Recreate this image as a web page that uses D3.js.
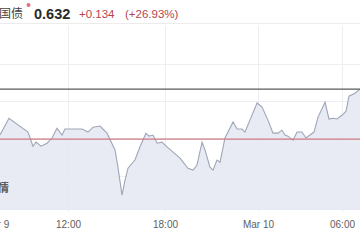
<!DOCTYPE html>
<html>
<head>
<meta charset="utf-8">
<script src="https://cdn.jsdelivr.net/npm/d3@7"></script>
<style>
  html, body { margin: 0; padding: 0; background: #fff; }
  svg { display: block; font-family: "Liberation Sans", Arial, sans-serif; }
</style>
</head>
<body>
<script>
// hours since Mar 9 00:00, yield
var hours = [7.75, 8.31, 9.50, 9.81, 10.0, 10.31, 10.69, 11.0, 11.31, 11.63, 11.81, 12.12, 12.87, 13.24, 13.55, 13.98,
  14.41, 14.91, 15.09, 15.34, 15.53, 15.71, 16.14, 16.45, 16.82, 17.01, 17.26, 17.51, 17.81, 18.13, 18.52, 18.97,
  19.48, 19.81, 20.06, 20.39, 20.58, 20.90, 21.10, 21.35, 21.55, 21.87, 22.39, 22.65, 22.97, 23.16, 23.48, 23.94,
  24.29, 24.71, 25.07, 25.43, 25.71, 25.93, 26.14, 26.50, 26.79, 27.14, 27.43, 27.71, 28.0, 28.29, 28.79, 29.07,
  29.36, 29.64, 30.0, 30.29, 30.5, 30.93, 31.29]
var yields = [0.509, 0.554, 0.517, 0.479, 0.490, 0.479, 0.487, 0.501, 0.527, 0.509, 0.525, 0.525, 0.525, 0.517, 0.530, 0.533,
  0.514, 0.469, 0.423, 0.348, 0.388, 0.420, 0.442, 0.477, 0.514, 0.506, 0.509, 0.487, 0.490, 0.477, 0.463, 0.447,
  0.420, 0.415, 0.428, 0.490, 0.469, 0.423, 0.415, 0.442, 0.436, 0.501, 0.544, 0.525, 0.525, 0.517, 0.549, 0.595,
  0.584, 0.549, 0.514, 0.514, 0.522, 0.509, 0.506, 0.495, 0.517, 0.517, 0.501, 0.509, 0.517, 0.557, 0.597, 0.552,
  0.554, 0.552, 0.562, 0.573, 0.613, 0.621, 0.632]
var prevClose = 0.498
var lastPrice = 0.632
var quoteTexts = ["0.632", "+0.134", "(+26.93%)"]
var tickHours = [7.5, 12, 18, 24, 30]
var tickLabels = ["Mar 9", "12:00", "18:00", "Mar 10", "06:00"]
var gridValues = [0.4, 0.5, 0.6, 0.7]

var width = 360, height = 240

var svg = d3.select("body").append("svg")
  .attr("width", width)
  .attr("height", height)

// session gaps make the axis uneven, so the scale is piecewise
var x = d3.scaleLinear()
  .domain([7.5, 12, 18, 24, 30, 31.29])
  .range([-4, 68, 165, 258, 342, 360])
var y = d3.scaleLinear().domain([0.308, 0.804]).range([210, 25])

var data = hours.map(function(h, i) { return { h: h, v: yields[i] } })

// header
svg.append("line")
  .attr("x1", 0).attr("x2", width)
  .attr("y1", 23.5).attr("y2", 23.5)
  .attr("stroke", "#ececec")

svg.append("text")
  .attr("x", -1).attr("y", 18)
  .attr("font-family", "Noto Sans CJK SC")
  .attr("font-size", 12)
  .attr("fill", "#444")
  .text("国债")

svg.append("circle")
  .attr("cx", 28.5).attr("cy", 5)
  .attr("r", 2)
  .attr("fill", "#e0707e")

svg.append("text")
  .attr("x", 34).attr("y", 18.5)
  .attr("font-size", 14.5)
  .attr("font-weight", "bold")
  .attr("fill", "#2a2a2a")
  .text(quoteTexts[0])

svg.append("text")
  .attr("x", 79).attr("y", 18)
  .attr("font-size", 11.5)
  .attr("fill", "#b8434f")
  .text(quoteTexts[1])

svg.append("text")
  .attr("x", 125).attr("y", 18)
  .attr("font-size", 11.5)
  .attr("fill", "#b8434f")
  .text(quoteTexts[2])

// grid
svg.selectAll(".vgrid")
  .data(tickHours)
  .enter().append("line")
  .attr("x1", function(d) { return Math.round(x(d)) + 0.5 })
  .attr("x2", function(d) { return Math.round(x(d)) + 0.5 })
  .attr("y1", 26).attr("y2", 212)
  .attr("stroke", "#eceef2")

svg.selectAll(".hgrid")
  .data(gridValues)
  .enter().append("line")
  .attr("x1", 0).attr("x2", width)
  .attr("y1", function(d) { return Math.round(y(d)) + 0.5 })
  .attr("y2", function(d) { return Math.round(y(d)) + 0.5 })
  .attr("stroke", "#eceef2")

// area + line
var area = d3.area()
  .x(function(d) { return x(d.h) })
  .y0(210)
  .y1(function(d) { return y(d.v) })

var line = d3.line()
  .x(function(d) { return x(d.h) })
  .y(function(d) { return y(d.v) })

svg.append("path")
  .datum(data)
  .attr("d", area)
  .attr("fill", "#e4e8f2")
  .attr("fill-opacity", 0.85)

svg.append("path")
  .datum(data)
  .attr("d", line)
  .attr("fill", "none")
  .attr("stroke", "#9ea6b6")
  .attr("stroke-width", 1.1)

// previous close + last price lines
svg.append("line")
  .attr("x1", 0).attr("x2", width)
  .attr("y1", y(prevClose)).attr("y2", y(prevClose))
  .attr("stroke", "#cf7a84")
  .attr("stroke-width", 1.2)

svg.append("line")
  .attr("x1", 0).attr("x2", width)
  .attr("y1", y(lastPrice)).attr("y2", y(lastPrice))
  .attr("stroke", "#5a5a5a")
  .attr("stroke-width", 1.3)

// watermark fragment
svg.append("text")
  .attr("x", 9).attr("y", 192)
  .attr("text-anchor", "end")
  .attr("font-family", "Noto Sans CJK SC")
  .attr("font-weight", "bold")
  .attr("font-size", 11.5)
  .attr("fill", "#5c5c5c")
  .text("行情")

// x axis labels
var xAxis = d3.axisBottom(x)
  .tickValues(tickHours)
  .tickFormat(function(d, i) { return tickLabels[i] })
  .tickSize(0)
  .tickPadding(0)

var axisG = svg.append("g")
  .attr("transform", "translate(0 221)")
  .call(xAxis)
axisG.select(".domain").remove()
axisG.selectAll("text")
  .attr("font-size", 10)
  .attr("font-family", "Liberation Sans, Arial, sans-serif")
  .attr("fill", "#5e5e5e")
</script>
</body>
</html>
